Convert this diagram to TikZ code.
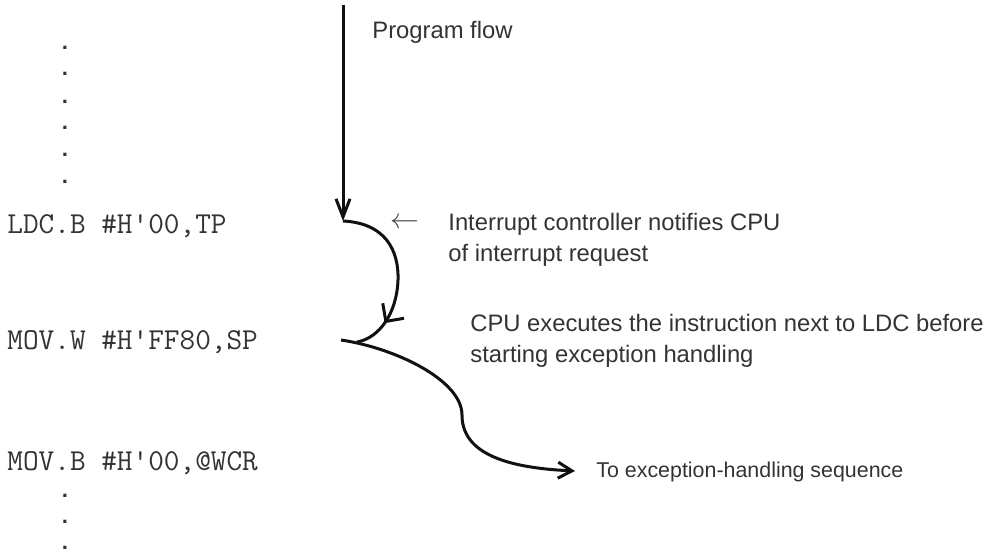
\documentclass[tikz,border=0pt]{standalone}
\usepackage{fontspec}
\setmainfont{Liberation Sans}
\newfontfamily\dotfont{Liberation Mono}
\usetikzlibrary{arrows.meta, positioning, decorations.markings}
\definecolor{flowink}{HTML}{111111}
\definecolor{noteink}{HTML}{333333}

\begin{document}
\begin{tikzpicture}[
  x=0.5pt, y=-0.5pt,
  code/.style={
    anchor=base west, inner sep=0pt, text=noteink,
    font=\ttfamily\fontsize{15.2}{18}\selectfont
  },
  codedot/.style={
    anchor=base, inner sep=0pt, text=noteink,
    font=\dotfont\bfseries\fontsize{11}{11}\selectfont
  },
  note/.style={
    anchor=base west, inner sep=0pt, text=noteink,
    font=\fontsize{11.9}{14}\selectfont
  },
  flow/.style={line width=1.5pt, draw=flowink},
  flowtip/.style={-{Straight Barb[length=9pt, width=7pt]}},
  endtip/.style={-{Straight Barb[length=7pt, width=8pt]}},
  midtip/.style={
    postaction={decorate},
    decoration={markings, mark=at position 0.8 with
      {\arrow{Straight Barb[length=6.5pt, width=13pt]}}}
  }
]
  \useasboundingbox (0,0) rectangle (993,553);

  \foreach \y [count=\i] in {49,75,103,129,156,183}
    \node[codedot] (dot\i) at (65,\y) {.};
  \foreach \y [count=\i] in {497,523,549}
    \node[codedot] (tail\i) at (65,\y) {.};

  \node[code] (ldc) at (7,233) {LDC.B \#H'00,TP};
  \node[code] (movw) at (7,349) {MOV.W \#H'FF80,SP};
  \node[code] (movb) at (7,470) {MOV.B \#H'00,@WCR};

  \node[note] (flowlbl) at (372,38) {Program flow};
  \node[note] (irq1) at (448,230) {Interrupt controller notifies CPU};
  \node[note] (irq2) at (448,261) {of interrupt request};
  \node[note] (cpu1) at (470,331) {CPU executes the instruction next to LDC before};
  \node[note] (cpu2) at (470,362) {starting exception handling};
  \node[note, font=\fontsize{10.7}{13}\selectfont] (seq) at (596,477) {To exception-handling sequence};
  \node[inner sep=0pt, text=noteink!90, font=\fontsize{14}{16}\selectfont] (notify) at (405,223) {$\leftarrow$};

  \coordinate (flowtop) at (343,5);
  \coordinate (lock) at (343,221);
  \coordinate (resume) at (357,342);
  \coordinate (branch) at (341,340);
  \coordinate (handler) at (575,471);

  \draw[flow, flowtip] (flowtop) -- (lock);
  \draw[flow, midtip] (lock) .. controls (385,223) and (399,250) .. (398,280)
    .. controls (397,312) and (380,338) .. (resume);
  \draw[flow, endtip] (branch) .. controls (395,348) and (462,380) .. (462,415)
    .. controls (462,455) and (510,468) .. (handler);
\end{tikzpicture}
\end{document}
